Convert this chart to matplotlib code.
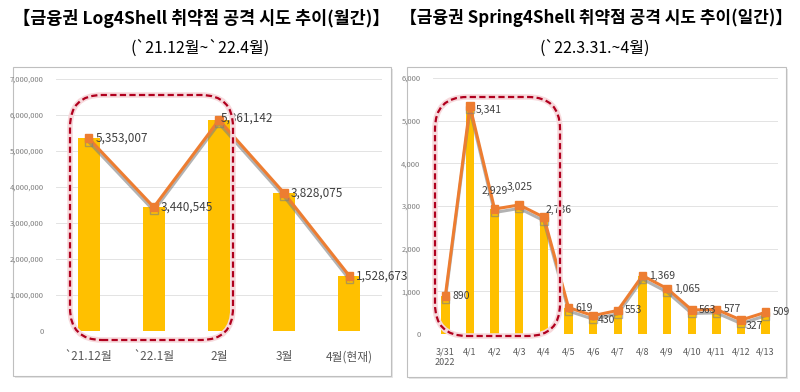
import numpy as np
import matplotlib.pyplot as plt
import matplotlib.patheffects as pe
from matplotlib.patches import FancyBboxPatch, Rectangle
from matplotlib.ticker import FuncFormatter

plt.rcParams['font.family'] = ['Noto Sans CJK KR', 'DejaVu Sans']

# Log4Shell monthly attempts
log_labels = ['`21.12월', '`22.1월', '2월', '3월', '4월(현재)']
log_values = [5353007, 3440545, 5861142, 3828075, 1528673]

# Spring4Shell daily attempts
spring_labels = ['3/31\n2022', '4/1', '4/2', '4/3', '4/4', '4/5', '4/6', '4/7',
                 '4/8', '4/9', '4/10', '4/11', '4/12', '4/13']
spring_values = [890, 5341, 2929, 3025, 2736, 619, 430, 553, 1369, 1065, 563, 577, 327, 509]

BAR = '#FFC000'
LINE = '#ED7D31'
GRID = '#E3E3E3'
TXT = '#404040'

W, H = 800, 392
fig = plt.figure(figsize=(W / 100, H / 100), dpi=100)


def fx(px):
    return px / W


def fy(py):
    return 1 - py / H


def panel(x0, y0, x1, y1):
    # shadow + frame
    fig.patches.append(Rectangle((fx(x0) + 0.002, fy(y1) - 0.004), fx(x1 - x0), (y1 - y0) / H,
                                 transform=fig.transFigure, facecolor='#E6E6E6', edgecolor='none', zorder=-3))
    fig.patches.append(Rectangle((fx(x0), fy(y1)), fx(x1 - x0), (y1 - y0) / H,
                                 transform=fig.transFigure, facecolor='white', edgecolor='#BFBFBF',
                                 linewidth=0.8, zorder=-2))


def red_box(x0, y0, x1, y1):
    for lw, col, ls in [(4, '#F7D9DC', '-'), (1.6, '#B0001E', (0, (2.8, 1.5)))]:
        fig.patches.append(FancyBboxPatch((fx(x0), fy(y1)), fx(x1 - x0), (y1 - y0) / H,
                                          boxstyle='round,pad=0,rounding_size=0.04',
                                          mutation_aspect=W / H, transform=fig.transFigure,
                                          facecolor='none', edgecolor=col, linewidth=lw,
                                          linestyle=ls, zorder=5))


def draw(ax, labels, values, ymax, step, lab_size, tick_size, xpad, offsets):
    x = np.arange(len(values))
    ax.bar(x, values, width=0.34, color=BAR, zorder=2)
    ax.plot(x, values, color=LINE, linewidth=2.2, marker='s', markersize=5.5, zorder=3,
            path_effects=[pe.SimpleLineShadow(offset=(0, -2.5), shadow_color='#7F7F7F', alpha=0.6),
                          pe.Normal()])
    for i, v in enumerate(values):
        dx, dy, ha = offsets.get(i, (5, 0, 'left'))
        ax.annotate(f'{v:,}', (i, v), xytext=(dx, dy), textcoords='offset points',
                    ha=ha, va='center', fontsize=lab_size, color=TXT, zorder=6)
    ax.set_xlim(-0.5, len(values) - 0.5)
    ax.set_ylim(0, ymax)
    ax.set_yticks(np.arange(0, ymax + 1, step))
    ax.yaxis.set_major_formatter(FuncFormatter(lambda v, p: f'{int(v):,}'))
    ax.set_xticks(x)
    ax.set_xticklabels(labels)
    ax.grid(axis='y', color=GRID, linewidth=0.7, zorder=0)
    ax.set_axisbelow(True)
    for s in ax.spines.values():
        s.set_visible(False)
    ax.tick_params(axis='y', length=0, labelsize=5.5, labelcolor='#7F7F7F', pad=9)
    ax.tick_params(axis='x', length=0, labelsize=tick_size, labelcolor='#595959', pad=xpad)
    ax.patch.set_alpha(0)


panel(13, 67, 391, 376)
panel(407, 67, 786, 377)

ax1 = fig.add_axes([fx(56), fy(331), fx(382 - 56), (331 - 79) / H])
draw(ax1, log_labels, log_values, 7000000, 1000000, 8.5, 8.5, 14,
     {2: (1, 1, 'left')})

ax2 = fig.add_axes([fx(433), fy(334), fx(778 - 433), (334 - 78) / H])
draw(ax2, spring_labels, spring_values, 6000, 1000, 7.5, 6.5, 10,
     {1: (4, -3, 'left'), 2: (0, 13, 'center'), 3: (0, 13, 'center'), 4: (1, 5, 'left'),
      6: (3, -3, 'left'), 12: (3, -4, 'left')})

red_box(70, 95, 233, 340)
red_box(435, 97, 560, 336)

fig.text(fx(201), fy(18), '【금융권 Log4Shell 취약점 공격 시도 추이(월간)】', ha='center', va='center',
         fontsize=12.5, fontweight='bold', color='black')
fig.text(fx(200), fy(48), '(`21.12월~`22.4월)', ha='center', va='center', fontsize=11.5, color='black')
fig.text(fx(596), fy(18), '【금융권 Spring4Shell 취약점 공격 시도 추이(일간)】', ha='center', va='center',
         fontsize=12.2, fontweight='bold', color='black')
fig.text(fx(595), fy(48), '(`22.3.31.~4월)', ha='center', va='center', fontsize=11.5, color='black')

fig.savefig('out.png', dpi=100)
